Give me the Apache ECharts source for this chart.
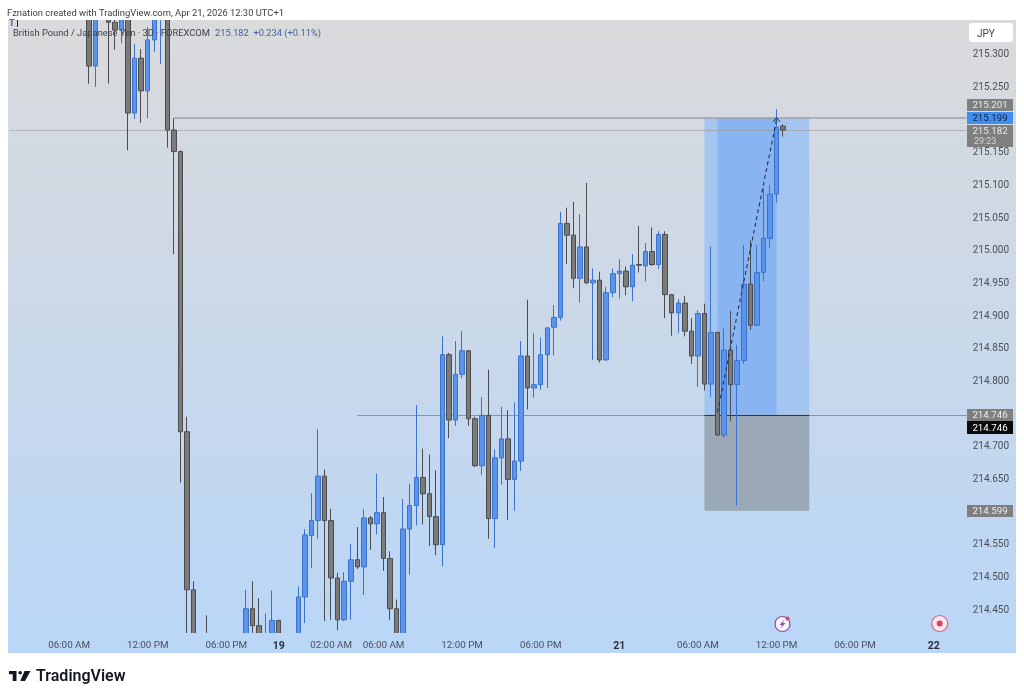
<!DOCTYPE html>
<html>
<head>
<meta charset="utf-8">
<style>html,body{margin:0;padding:0;background:#fff}#c{width:1024px;height:698px}</style>
<script src="https://cdn.jsdelivr.net/npm/echarts@6/dist/echarts.min.js"></script>
</head>
<body>
<div id="c"></div>
<script>
// 30-minute bars, values. Bar index = firstBar + array position.
const firstBar = 12;
const barCount = 147;
const opens = [
215.42,215.28,null,215.40,215.347,215.335,215.38,215.208,215.292,215.242,
215.32,215.36,215.39,215.182,215.149,214.72,214.478,null,214.38,null,
null,null,null,null,214.38,214.449,214.423,214.38,214.39,214.431,
null,null,214.38,214.467,214.561,214.584,214.652,214.584,214.496,214.432,
214.491,214.524,214.513,214.588,214.579,214.596,214.526,214.449,214.37,214.571,
214.607,214.65,214.625,214.59,214.547,214.838,214.738,214.808,214.844,214.74,
214.668,214.745,214.587,214.68,214.709,214.647,214.675,214.836,214.787,214.792,
214.838,214.88,214.895,215.039,215.021,214.955,215.003,214.948,214.952,214.83,
214.933,214.962,214.966,214.942,214.976,214.974,214.996,214.976,215.022,214.93,
214.902,214.917,214.874,214.836,214.901,214.793,214.872,214.715,214.845,214.792,
214.829,214.946,214.883,214.964,215.016,215.084,215.188];
const closes = [
215.28,215.40,null,215.347,215.335,215.37,215.208,215.292,215.242,215.32,
215.37,215.39,215.182,215.149,214.72,214.478,214.36,null,214.36,null,
null,null,null,null,214.449,214.423,214.40,214.40,214.431,214.39,
null,null,214.467,214.562,214.584,214.652,214.584,214.496,214.432,214.491,
214.524,214.513,214.588,214.579,214.596,214.526,214.449,214.37,214.571,214.607,
214.65,214.625,214.59,214.547,214.838,214.738,214.808,214.844,214.74,214.668,
214.745,214.587,214.68,214.709,214.647,214.675,214.836,214.787,214.792,214.838,
214.879,214.895,215.039,215.021,214.955,215.003,214.948,214.952,214.83,214.933,
214.962,214.966,214.942,214.975,214.975,214.996,214.976,215.022,214.93,214.902,
214.917,214.874,214.836,214.901,214.793,214.872,214.715,214.845,214.792,214.829,
214.946,214.883,214.964,215.016,215.084,215.186,215.182];
const lows = [
215.253,215.248,null,215.253,215.305,215.315,215.151,215.199,215.193,215.2,
215.302,215.283,215.155,214.992,214.642,214.38,214.34,null,214.34,null,
null,null,null,null,214.37,214.39,214.38,214.37,214.37,214.37,
null,null,214.37,214.427,214.511,214.556,214.43,214.432,214.416,214.43,
214.432,214.51,214.47,214.539,214.563,214.507,214.432,214.35,214.35,214.501,
214.577,214.578,214.545,214.531,214.514,214.71,214.729,214.802,214.729,214.666,
214.654,214.556,214.542,214.639,214.585,214.599,214.66,214.754,214.772,214.784,
214.787,214.837,214.89,214.977,214.94,214.918,214.946,214.83,214.826,214.829,
214.926,214.924,214.929,214.92,214.964,214.95,214.974,214.969,214.894,214.867,
214.871,214.866,214.824,214.789,214.783,214.773,214.714,214.711,214.736,214.607,
214.824,214.876,214.882,214.95,215.002,215.071,215.172];
const highs = [
215.44,215.42,null,215.41,215.36,215.38,215.39,215.314,215.306,215.34,
215.38,215.40,215.40,215.2,215.151,214.743,214.491,null,214.439,null,
null,null,null,null,214.478,214.491,214.465,214.442,214.477,214.432,
null,null,214.483,214.571,214.626,214.724,214.662,214.602,214.504,214.505,
214.548,214.574,214.602,214.591,214.656,214.62,214.537,214.463,214.617,214.64,
214.761,214.694,214.685,214.661,214.866,214.841,214.859,214.874,214.845,214.743,
214.773,214.815,214.693,214.758,214.753,214.765,214.859,214.922,214.871,214.864,
214.88,214.914,215.057,215.063,215.072,215.053,215.101,214.97,214.965,214.942,
214.97,214.984,214.973,214.992,215.035,215.009,215.033,215.027,215.027,214.931,
214.923,214.928,214.894,214.906,214.916,215.004,214.873,214.878,214.905,214.853,
215.006,215.013,215.006,215.093,215.098,215.214,215.191];

const priceTicks = [215.3,215.25,215.15,215.1,215.05,215,214.95,214.9,214.85,214.8,214.7,214.65,214.55,214.5,214.45];
const timeTickBars = [9,21,33,41,49,57,69,81,93,105,117,129,141];
const timeTickLabels = ['06:00 AM','12:00 PM','06:00 PM','19','02:00 AM','06:00 AM','12:00 PM','06:00 PM','21','06:00 AM','12:00 PM','06:00 PM','22'];

const priceMax = 215.3505, priceMin = 214.4118;
const entryPrice = 214.746, targetPrice = 215.201, stopPrice = 214.599, lastPrice = 215.182;
const positionStart = 106, positionEnd = 122, fillStart = 108, fillEnd = 117;
const targetLineStart = 25, entryLineStart = 53, lastBar = 146;
const tradeFrom = 214.75, tradeTo = 215.198;
// bars running past the pane are cut at its edges
const clipMargin = 0.004;
const clampPrice = (v) => Math.max(priceMin - clipMargin, Math.min(priceMax + clipMargin, v));

const categories = Array.from({length: barCount}, (_, i) => {
  const k = timeTickBars.indexOf(i);
  return k >= 0 ? timeTickLabels[k] : '';
});
const candles = Array.from({length: barCount}, (_, i) => {
  const k = i - firstBar;
  if (k < 0 || k >= opens.length || opens[k] == null) return ['-', '-', '-', '-'];
  if (highs[k] < priceMin || lows[k] > priceMax) return ['-', '-', '-', '-'];
  return [clampPrice(opens[k]), clampPrice(closes[k]), clampPrice(lows[k]), clampPrice(highs[k])];
});

const font = 'Roboto, "Liberation Sans", sans-serif';
function box(x, y, w, h, fill, r) {
  return {type:'rect', z:60, shape:{x, y, width:w, height:h, r:r||0}, style:{fill}};
}
function label(text, x, y, size, fill, weight, align) {
  return {type:'text', z:61, style:{text, x, y, fill, font:(weight||'normal')+' '+size+'px '+font, textAlign:align||'left', textVerticalAlign:'middle'}};
}
const chart = echarts.init(document.getElementById('c'), null, {renderer:'canvas'});
chart.setOption({
  animation:false,
  backgroundColor:'#ffffff',
  grid:{left:6.9, top:20, width:962.85, height:613, containLabel:false},
  xAxis:{type:'category', data:categories, boundaryGap:true,
    axisLine:{show:false}, axisTick:{show:false}, splitLine:{show:false},
    axisLabel:{show:true, margin:8, color:'#4a4f57', fontFamily:font, fontSize:9.8,
      interval:(i)=>timeTickBars.indexOf(i)>=0,
      hideOverlap:false,
      formatter:(v)=>/^\d+$/.test(v)?'{b|'+v+'}':v,
      rich:{b:{fontWeight:'bold', color:'#2a2e39', fontFamily:font, fontSize:10.5}}}},
  yAxis:{type:'value', position:'right', min:priceMin, max:priceMax, scale:true,
    axisLine:{show:false}, axisTick:{show:false}, splitLine:{show:false},
    axisLabel:{show:true, customValues:priceTicks, margin:3, color:'#4a4f57', fontFamily:font, fontSize:10,
      formatter:(v)=>'{p|'+Number(v).toFixed(3)+'}',
      rich:{p:{color:'#4a4f57', fontFamily:font, fontSize:10, padding:[4,0,0,0]}}}},
  series:[
    {type:'candlestick', data:candles, barWidth:5, clip:false, z:3,
      itemStyle:{color:'#5b94ec', color0:'#7b7b7b', borderColor:'#3a72cc', borderColor0:'#4c4c4c', borderWidth:1},
      markArea:{silent:true, z:1, data:[
        [{xAxis:positionStart, yAxis:targetPrice, itemStyle:{color:'#a3c5f0'}},{xAxis:positionEnd, yAxis:entryPrice}],
        [{xAxis:fillStart, yAxis:targetPrice, itemStyle:{color:'#88b5f2'}},{xAxis:fillEnd, yAxis:entryPrice}],
        [{xAxis:positionStart, yAxis:entryPrice, itemStyle:{color:'#9ba8b8'}},{xAxis:positionEnd, yAxis:stopPrice}]
      ]},
      markLine:{silent:true, symbol:'none', z:2, label:{show:false}, data:[
        [{xAxis:targetLineStart, yAxis:targetPrice, lineStyle:{color:'#9ea3aa', width:1.5, type:'solid'}},{xAxis:lastBar, yAxis:targetPrice}],
        [{xAxis:entryLineStart, yAxis:entryPrice, lineStyle:{color:'#8f949c', width:1, type:'solid'}},{xAxis:lastBar, yAxis:entryPrice}],
        [{xAxis:positionStart, yAxis:entryPrice, lineStyle:{color:'#2f3640', width:1.2, type:'solid'}},{xAxis:positionEnd, yAxis:entryPrice}],
        [{xAxis:0, yAxis:lastPrice, lineStyle:{color:'#8d9096', width:1, type:'dotted'}},{xAxis:lastBar, yAxis:lastPrice}]
      ]}
    },
    {type:'line', z:5, silent:true, showSymbol:true,
      data:[
        {value:[fillStart, tradeFrom], symbol:'none'},
        {value:[fillEnd, tradeTo], symbol:'path://M0 6 L4 0 L8 6 L7 6 L4 1.6 L1 6 Z', symbolSize:[8,5], itemStyle:{color:'#27324e'}}
      ],
      lineStyle:{color:'#27324e', width:1.1, type:[4,3]}, itemStyle:{color:'#27324e'}}
  ],
  graphic:{elements:[
    {type:'rect', z:-10, silent:true, shape:{x:8,y:20,width:1008,height:633},
      style:{fill:new echarts.graphic.LinearGradient(0,0,0,1,[{offset:0,color:'#dadadb'},{offset:1,color:'#b9d6f8'}])}},
    {type:'rect', z:10, silent:true, shape:{x:0,y:14,width:400,height:6}, style:{fill:'#ffffff'}},
    {type:'rect', z:10, silent:true, shape:{x:8,y:633,width:960,height:4}, style:{fill:'#bad7f7'}},
    label('Fznation created with TradingView.com, Apr 21, 2026 12:30 UTC+1', 7, 14, 9.4, '#3a3d44'),
    label('British Pound / Japanese Yen · 3D · FOREXCOM', 13, 34, 9.35, '#3a3f4a'),
    label('215.182  +0.234 (+0.11%)', 215, 34, 9.3, '#42629f'),
    label('T', 9, 24, 9, '#3b6fc7', 'bold'),
    box(17, 20, 1, 7, '#222'),
    box(969, 23, 44, 19, '#ffffff', 3),
    label('JPY', 977, 34, 10, '#3a3f4a'),
    box(967, 99, 46, 12, '#7f7f80'),
    label('215.201', 990, 106, 9.7, '#e8e8e8', 'normal', 'center'),
    box(967, 112, 46, 12, '#3f8ef0'),
    label('215.199', 990, 119, 9.7, '#14213d', 'normal', 'center'),
    box(967, 125, 46, 22, '#7f7f80'),
    label('215.182', 990, 131.5, 9.7, '#e8e8e8', 'normal', 'center'),
    label('29:23', 974, 142, 9, '#d5d5d5'),
    box(967, 409, 46, 12, '#7f7f80'),
    label('214.746', 990, 416, 9.7, '#ececec', 'normal', 'center'),
    box(967, 421, 46, 13, '#0b0b0b'),
    label('214.746', 990, 428.5, 9.7, '#ffffff', 'normal', 'center'),
    box(967, 505, 46, 12, '#7f7f80'),
    label('214.599', 990, 512, 9.7, '#ececec', 'normal', 'center'),
    {type:'circle', z:60, shape:{cx:782.5,cy:624,r:7.5}, style:{fill:'#f4f3fb', stroke:'#8d4aa6', lineWidth:1.2}},
    {type:'polygon', z:61, shape:{points:[[784.5,619.5],[779.5,625],[782.3,625],[780.5,628.5],[785.5,623],[782.8,623]]}, style:{fill:'#8d4aa6'}},
    {type:'circle', z:62, shape:{cx:787.5,cy:618.5,r:2}, style:{fill:'#e0405f'}},
    {type:'circle', z:60, shape:{cx:939.7,cy:623.5,r:8}, style:{fill:'#f6eaf0', stroke:'#e0607a', lineWidth:1.2}},
    {type:'circle', z:61, shape:{cx:939.7,cy:623.5,r:3}, style:{fill:'#e0405f'}},
    {type:'polygon', z:61, shape:{points:[[9,671],[16.5,671],[16.5,681],[12.7,681],[12.7,674.3],[9,674.3]]}, style:{fill:'#131722'}},
    {type:'circle', z:61, shape:{cx:20.2,cy:672.8,r:1.8}, style:{fill:'#131722'}},
    {type:'polygon', z:61, shape:{points:[[24.5,671],[30.5,671],[25,681],[20.3,681]]}, style:{fill:'#131722'}},
    {type:'text', z:61, style:{text:'TradingView', x:36, y:677, fill:'#131722', font:'600 16px '+font, textVerticalAlign:'middle'}}
  ]}
});
</script>
</body>
</html>
